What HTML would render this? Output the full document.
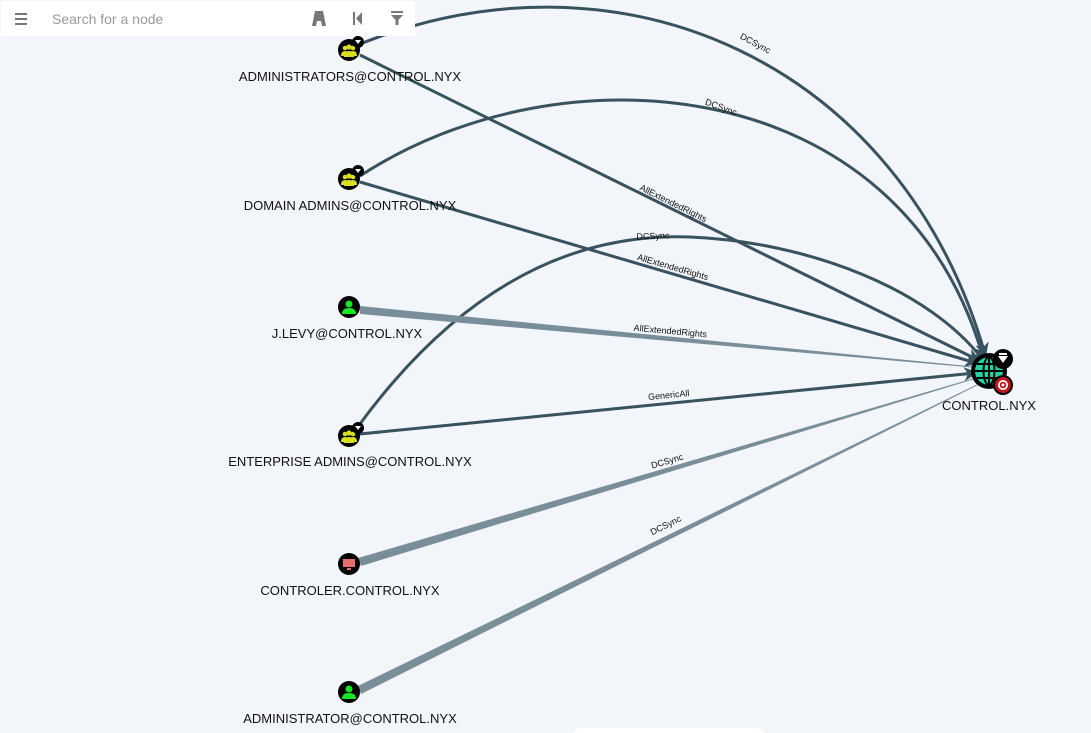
<!DOCTYPE html>
<html><head><meta charset="utf-8"><style>
html,body{margin:0;padding:0;width:1091px;height:733px;overflow:hidden;background:#f2f5fa;font-family:"Liberation Sans",sans-serif}
svg{position:absolute;left:0;top:0}
.bar{position:absolute;left:1px;top:1px;width:414px;height:35px;background:#fff}
</style></head><body>
<svg width="1091" height="733" viewBox="0 0 1091 733">
<defs>
<marker id="ah" markerWidth="14" markerHeight="14" refX="11" refY="7" orient="auto" markerUnits="userSpaceOnUse">
<path d="M0,0 L14,7 L0,14 L4,7 z" fill="#38525f"/></marker>
</defs>
<g fill="none" stroke="#38525f" stroke-width="3">
<path d="M360,44 C620,-60 900,60 985,354" marker-end="url(#ah)"/>
<path d="M360,176 C560,45 900,70 983,357" marker-end="url(#ah)"/>
<path d="M357,428 C450,300 560,232 690,237 C810,242 930,290 983,360" marker-end="url(#ah)"/>
<path d="M360,55 L978,360" marker-end="url(#ah)"/>
<path d="M360,182 L976,363" marker-end="url(#ah)"/>
<path d="M360,434 L975,373" marker-end="url(#ah)"/>
</g>
<g fill="#7a8e9a">
<polygon points="360,306 360,314 978,368 978,367"/>
<polygon points="358,558 361,566 978,378 978,377"/>
<polygon points="358,686 361,694 980,384 980,383"/>
</g>
<g font-size="9" fill="#111" text-anchor="middle">
<text transform="translate(754,46) rotate(28)">DCSync</text>
<text transform="translate(720,110) rotate(20)">DCSync</text>
<text transform="translate(653,239) rotate(-2)">DCSync</text>
<text transform="translate(672,206) rotate(26.4)">AllExtendedRights</text>
<text transform="translate(672,270) rotate(16.3)">AllExtendedRights</text>
<text transform="translate(670,334) rotate(5.3)">AllExtendedRights</text>
<text transform="translate(669,398) rotate(-5.6)">GenericAll</text>
<text transform="translate(668,464) rotate(-16.5)">DCSync</text>
<text transform="translate(667,528) rotate(-26.4)">DCSync</text>
</g>
<g>
<g transform="translate(349,50)"><circle r="11" fill="#000"/><circle cx="-4" cy="-2" r="2.3" fill="#d7df1f"/><circle cx="4" cy="-2" r="2.3" fill="#d7df1f"/><circle cx="0" cy="-3" r="2.6" fill="#d7df1f"/><path d="M-8,6 Q-8,1 -4,1 Q0,1 0,6Z M0,6 Q0,1 4,1 Q8,1 8,6Z M-5,7 Q-5,1 0,1 Q5,1 5,7Z" fill="#d7df1f"/><circle cx="9" cy="-8" r="6" fill="#000"/><path d="M6,-10 h6 l-3,4z" fill="#fff"/></g>
<g transform="translate(349,179)"><circle r="11" fill="#000"/><circle cx="-4" cy="-2" r="2.3" fill="#d7df1f"/><circle cx="4" cy="-2" r="2.3" fill="#d7df1f"/><circle cx="0" cy="-3" r="2.6" fill="#d7df1f"/><path d="M-8,6 Q-8,1 -4,1 Q0,1 0,6Z M0,6 Q0,1 4,1 Q8,1 8,6Z M-5,7 Q-5,1 0,1 Q5,1 5,7Z" fill="#d7df1f"/><circle cx="9" cy="-8" r="6" fill="#000"/><path d="M6,-10 h6 l-3,4z" fill="#fff"/></g>
<g transform="translate(349,436)"><circle r="11" fill="#000"/><circle cx="-4" cy="-2" r="2.3" fill="#d7df1f"/><circle cx="4" cy="-2" r="2.3" fill="#d7df1f"/><circle cx="0" cy="-3" r="2.6" fill="#d7df1f"/><path d="M-8,6 Q-8,1 -4,1 Q0,1 0,6Z M0,6 Q0,1 4,1 Q8,1 8,6Z M-5,7 Q-5,1 0,1 Q5,1 5,7Z" fill="#d7df1f"/><circle cx="9" cy="-8" r="6" fill="#000"/><path d="M6,-10 h6 l-3,4z" fill="#fff"/></g>
<g transform="translate(349,307)"><circle r="11" fill="#000"/><circle cy="-3" r="3.5" fill="#17e625"/><path d="M-7,7 Q-7,1 0,1 Q7,1 7,7Z" fill="#17e625"/></g>
<g transform="translate(349,692)"><circle r="11" fill="#000"/><circle cy="-3" r="3.5" fill="#17e625"/><path d="M-7,7 Q-7,1 0,1 Q7,1 7,7Z" fill="#17e625"/></g>
<g transform="translate(349,564)"><circle r="11" fill="#000"/><rect x="-6" y="-5" width="12" height="8" fill="#e66e6e"/><rect x="-2" y="4" width="4" height="2" fill="#e66e6e"/></g>
<g transform="translate(989,371)"><circle r="18" fill="#000"/><circle r="14" fill="#1fd3a6"/><ellipse rx="5.5" ry="14" fill="none" stroke="#000" stroke-width="2"/><line x1="-14" y1="0" x2="14" y2="0" stroke="#000" stroke-width="2"/><line x1="-12" y1="-7" x2="12" y2="-7" stroke="#000" stroke-width="2"/><line x1="-12" y1="7" x2="12" y2="7" stroke="#000" stroke-width="2"/><line x1="0" y1="-14" x2="0" y2="14" stroke="#000" stroke-width="2"/>
<circle cx="14" cy="-12" r="10" fill="#000"/><path d="M9,-15 h10 l-5,7z" fill="#fff"/><rect x="10" y="-18" width="8" height="2" fill="#fff"/>
<circle cx="14" cy="14" r="10" fill="#000"/><circle cx="14" cy="14" r="8" fill="#c0141c"/><circle cx="14" cy="14" r="5" fill="#fff"/><circle cx="14" cy="14" r="3.3" fill="#c0141c"/><circle cx="14" cy="14" r="1.5" fill="#fff"/></g>
</g>
<g font-size="13" fill="#111" text-anchor="middle">
<text x="350" y="81">ADMINISTRATORS@CONTROL.NYX</text>
<text x="350" y="210">DOMAIN ADMINS@CONTROL.NYX</text>
<text x="347" y="338">J.LEVY@CONTROL.NYX</text>
<text x="350" y="466">ENTERPRISE ADMINS@CONTROL.NYX</text>
<text x="350" y="595">CONTROLER.CONTROL.NYX</text>
<text x="350" y="723">ADMINISTRATOR@CONTROL.NYX</text>
<text x="989" y="410">CONTROL.NYX</text>
</g>
<rect x="572" y="728" width="194" height="20" rx="10" fill="#fff"/>
</svg>
<div class="bar">
<svg width="414" height="35">
<g fill="#777"><rect x="14" y="12" width="12" height="2"/><rect x="14" y="17" width="12" height="2"/><rect x="14" y="22" width="12" height="2"/></g>
<text x="51" y="23" font-size="14" fill="#999" font-family="Liberation Sans,sans-serif">Search for a node</text>
<path d="M311,25 L314,10 L322,10 L325,25 L321,25 L320,20 L316,20 L315,25Z" fill="#777"/>
<rect x="352" y="11" width="2" height="13" fill="#777"/><path d="M361,11 L355,17.5 L361,24Z" fill="#777"/>
<path d="M390,10 h12 v2 h-12z M390,14 h12 l-4.5,5 v5 h-3 v-5z" fill="#777"/>
</svg>
</div>
</body></html>
